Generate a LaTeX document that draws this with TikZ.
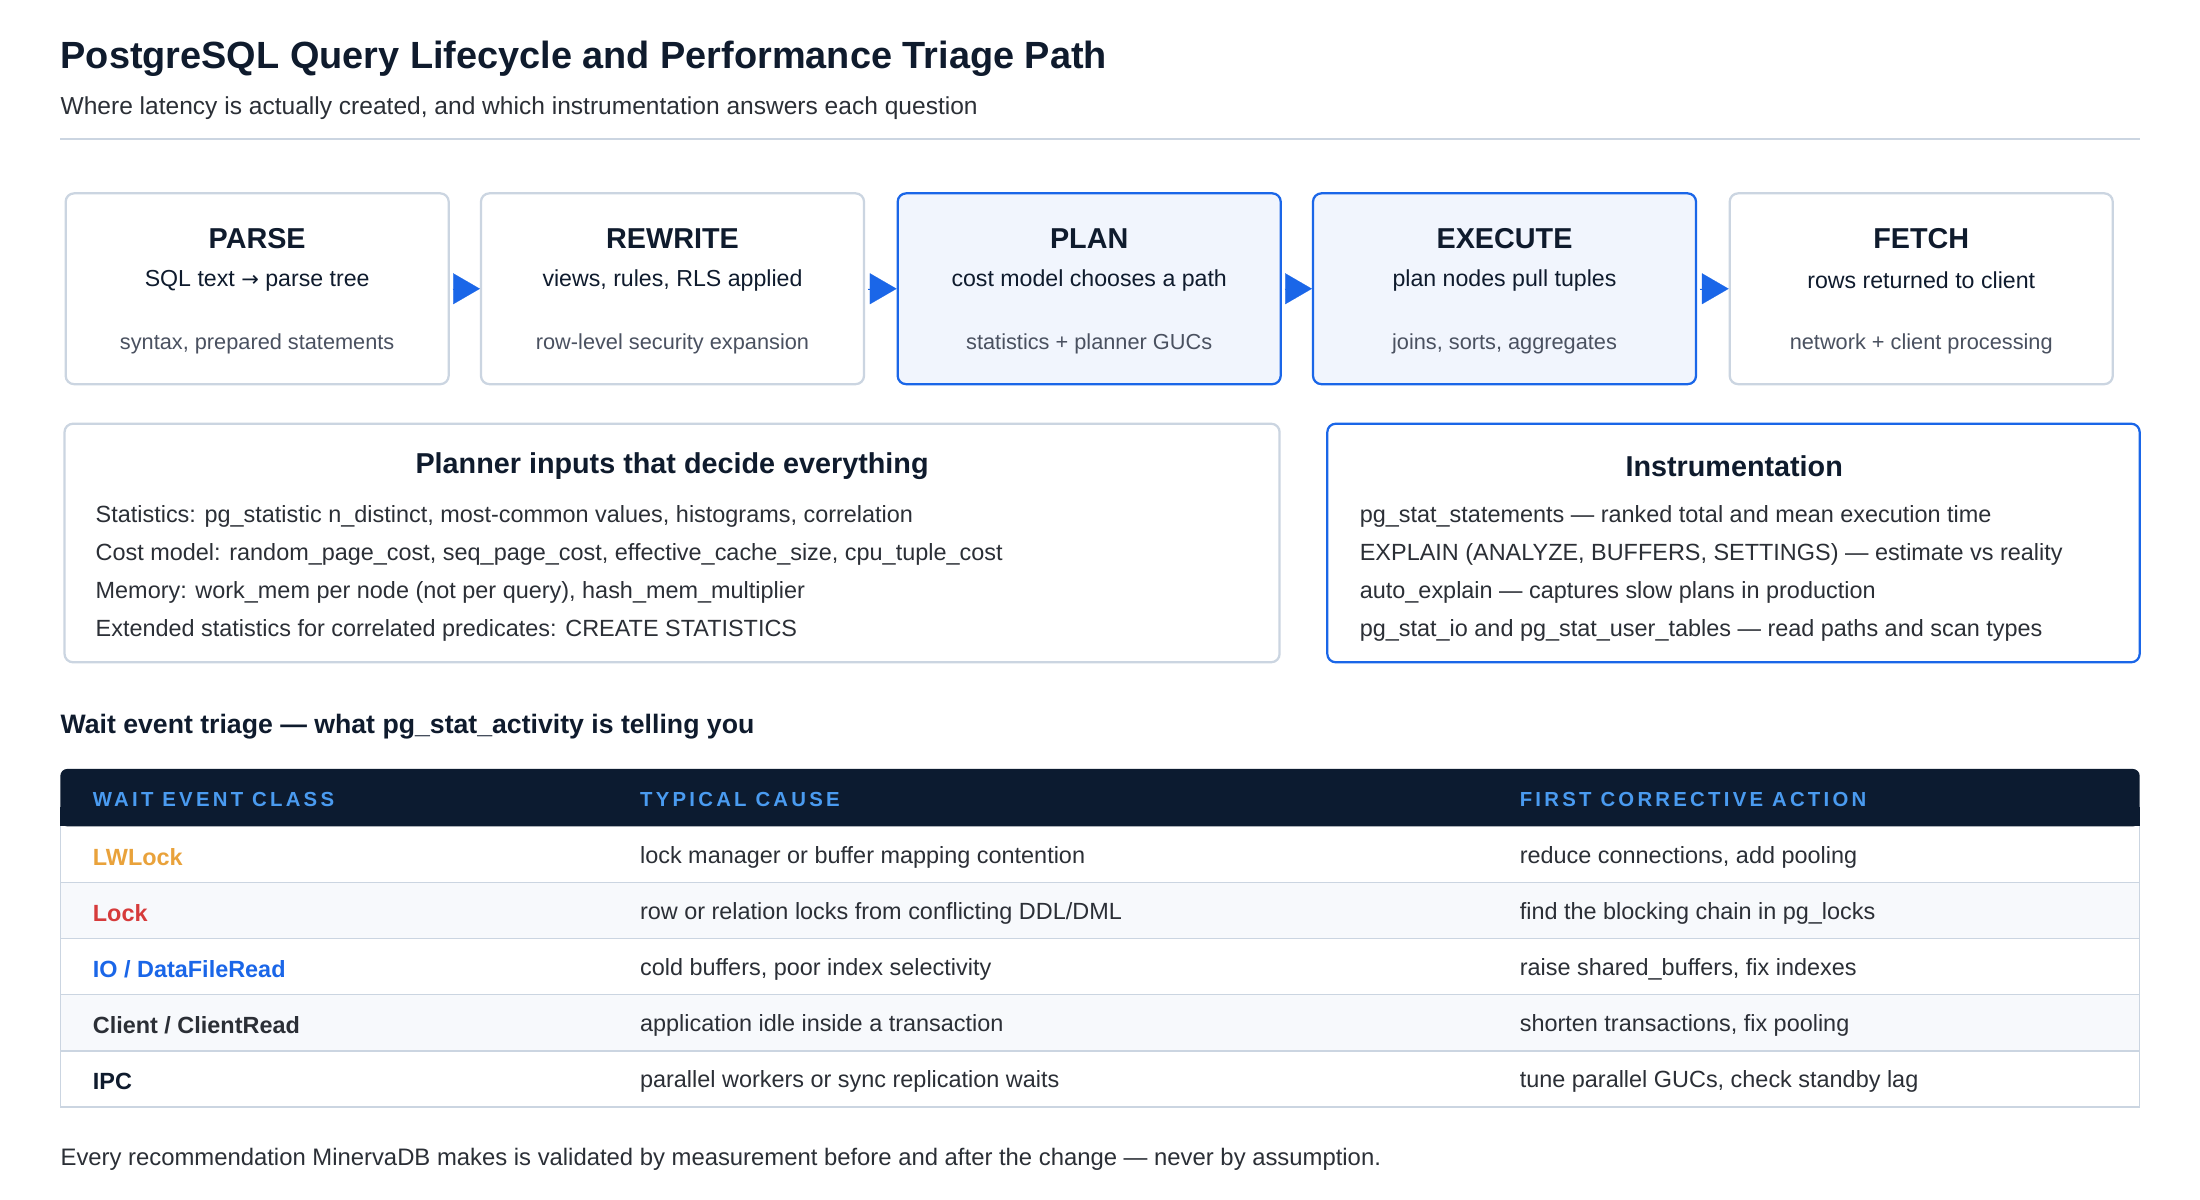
\documentclass[tikz,border=0pt]{standalone}
\usepackage{fontspec}
\setmainfont{Liberation Sans}
\newfontfamily\symfont{DejaVu Sans}
\usetikzlibrary{arrows.meta, positioning}
\definecolor{ink}{HTML}{0F1B2D}
\definecolor{txt}{HTML}{2B2F36}
\definecolor{muted}{HTML}{4A5160}
\definecolor{edge}{HTML}{CBD5E1}
\definecolor{pgblue}{HTML}{1A66E8}
\definecolor{paleblue}{HTML}{F1F5FD}
\definecolor{head}{HTML}{0C1B30}
\definecolor{headtxt}{HTML}{4A9BF0}
\definecolor{stripe}{HTML}{F7F9FC}
\definecolor{amber}{HTML}{E9A23B}
\definecolor{alarm}{HTML}{D63B3B}
\newcommand{\fs}[1]{\fontsize{#1}{#1}\selectfont}
\tikzset{
  every node/.style={inner sep=0pt},
  stage/.style={draw=edge, line width=1.6pt, rounded corners=6pt, fill=white,
    minimum width=273pt, minimum height=136pt, anchor=north west},
  hot/.style={draw=pgblue, fill=paleblue},
  panel/.style={draw=edge, line width=1.6pt, rounded corners=6pt, fill=white},
  flow/.style={draw=pgblue, line width=0.1pt, shorten <=2pt,
    -{Triangle[length=19pt,width=22pt]}, fill=pgblue},
  stitle/.style={font=\fs{20.5}\bfseries, text=ink},
  sline/.style={font=\fs{16.5}, text=ink},
  snote/.style={font=\fs{15.5}, text=muted},
  item/.style={font=\fs{16.7}, text=txt, anchor=west},
  col/.style={font=\fs{14.5}\bfseries\addfontfeatures{LetterSpace=16}, text=headtxt, anchor=west},
  cell/.style={font=\fs{16.7}, text=txt, anchor=west}
}
\begin{document}
\begin{tikzpicture}[x=1pt, y=-1pt]
\useasboundingbox[fill=white] (0,0) rectangle (1568,855);
% heading
\node[anchor=west, font=\fs{27}\bfseries, text=ink] (title) at (43,42) {PostgreSQL Query Lifecycle and Performance Triage Path};
\node[anchor=west, font=\fs{17.5}, text=txt] (sub) at (43,77) {Where latency is actually created, and which instrumentation answers each question};
\draw[edge, line width=1pt] (43,99) -- (1525,99);
% lifecycle stages
\node[stage] (parse) at (46,137) {};
\node[stage] (rewrite) at (342,137) {};
\node[stage, hot] (plan) at (639,137) {};
\node[stage, hot] (execute) at (935,137) {};
\node[stage] (fetch) at (1232,137) {};
\foreach \s/\t/\a/\b in {parse/PARSE/SQL text {\symfont\fs{15}→} parse tree/{syntax, prepared statements},
  rewrite/REWRITE/{views, rules, RLS applied}/row-level security expansion,
  plan/PLAN/cost model chooses a path/statistics + planner GUCs,
  execute/EXECUTE/plan nodes pull tuples/{joins, sorts, aggregates},
  fetch/FETCH/rows returned to client/network + client processing}{
  \node[stitle] at ([yshift=-33pt]\s.north) {\t};
  \node[sline] at ([yshift=-63pt]\s.north) {\a};
  \node[snote] at ([yshift=-108pt]\s.north) {\b};
}
\draw[flow] (parse.east) -- (rewrite.west);
\draw[flow] (rewrite.east) -- (plan.west);
\draw[flow] (plan.east) -- (execute.west);
\draw[flow] (execute.east) -- (fetch.west);
% planner inputs and instrumentation
\draw[panel] (46,302) rectangle (912,472);
\node[stitle] (inputs) at (479,332) {Planner inputs that decide everything};
\node[item] at (68,368) {Statistics: pg\_statistic n\_distinct, most-common values, histograms, correlation};
\node[item] at (68,395) {Cost model: random\_page\_cost, seq\_page\_cost, effective\_cache\_size, cpu\_tuple\_cost};
\node[item] at (68,422) {Memory: work\_mem per node (not per query), hash\_mem\_multiplier};
\node[item] at (68,449) {Extended statistics for correlated predicates: CREATE STATISTICS};
\draw[panel, draw=pgblue] (946,302) rectangle (1525,472);
\node[stitle] (instr) at (1236,332) {Instrumentation};
\node[item] at (969,368) {pg\_stat\_statements — ranked total and mean execution time};
\node[item] at (969,395) {EXPLAIN (ANALYZE, BUFFERS, SETTINGS) — estimate vs reality};
\node[item] at (969,422) {auto\_explain — captures slow plans in production};
\node[item] at (969,449) {pg\_stat\_io and pg\_stat\_user\_tables — read paths and scan types};
% wait event table
\node[anchor=west, font=\fs{19}\bfseries, text=ink] (triage) at (43,518) {Wait event triage — what pg\_stat\_activity is telling you};
\fill[head, rounded corners=5pt] (43,548) rectangle (1525,589);
\fill[head] (43,575) rectangle (1525,589);
\node[col] at (66,570) {WAIT EVENT CLASS};
\node[col] at (456,570) {TYPICAL CAUSE};
\node[col] at (1083,570) {FIRST CORRECTIVE ACTION};
\foreach \i/\c/\k/\w/\f in {0/amber/LWLock/lock manager or buffer mapping contention/{reduce connections, add pooling},
  1/alarm/Lock/{row or relation locks from conflicting DDL/DML}/find the blocking chain in pg\_locks,
  2/pgblue/{IO / DataFileRead}/{cold buffers, poor index selectivity}/{raise shared\_buffers, fix indexes},
  3/txt/{Client / ClientRead}/application idle inside a transaction/{shorten transactions, fix pooling},
  4/ink/IPC/parallel workers or sync replication waits/{tune parallel GUCs, check standby lag}}{
  \pgfmathsetmacro{\top}{589+40*\i}
  \ifodd\i \fill[stripe] (43,\top) rectangle (1525,\top+40); \fi
  \draw[edge, line width=1pt] (43,\top+40) -- (1525,\top+40);
  \node[cell, font=\fs{16.7}\bfseries, text=\c] at (66,\top+22) {\k};
  \node[cell] at (456,\top+22) {\w};
  \node[cell] at (1083,\top+22) {\f};
}
\draw[edge, line width=1pt] (43,589) -- (43,789) (1525,589) -- (1525,789);
\node[anchor=west, font=\fs{17}, text=txt] (foot) at (43,826) {Every recommendation MinervaDB makes is validated by measurement before and after the change — never by assumption.};
\end{tikzpicture}
\end{document}
